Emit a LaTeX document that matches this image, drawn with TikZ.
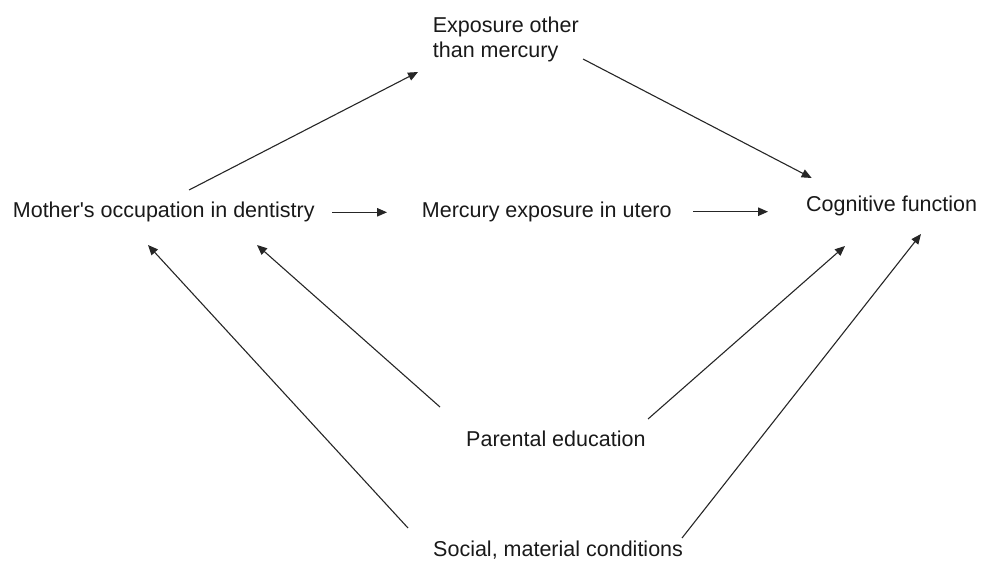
\documentclass[tikz,border=0pt]{standalone}
\usepackage{fontspec}
\setmainfont{Liberation Sans}[Ligatures=TeXOff]
\usetikzlibrary{arrows.meta}

\tikzset{
  label/.style={inner sep=0pt, font=\fontsize{21.5}{25}\selectfont, text=black!90},
  arr/.style={draw=black!85, line width=1.1pt, -{Triangle[length=10pt,width=8.5pt]}}
}

\begin{document}
\begin{tikzpicture}[x=1pt,y=-1pt]
  \useasboundingbox (0,0) rectangle (981,565);
  % Variables
  \node[label, anchor=base west] (moth) at (12.7,217) {Mother's occupation in dentistry};
  \node[label, anchor=base west] (merc) at (421.7,217.3) {Mercury exposure in utero};
  \node[label, anchor=base west] (cogn) at (806,211.7) {Cognitive function};
  \node[label, anchor=north west, align=left] (expo) at (432.7,16.5)
    {Exposure other\\than mercury};
  \node[label, anchor=base west] (par) at (466,446.7) {Parental education};
  \node[label, anchor=base west] (soc) at (433,556.7) {Social, material conditions};
  % Paths through the exposure
  \draw[arr] ([shift={(176.3,-27)}]moth.base west) -- ([shift={(-14.7,55.5)}]expo.north west);
  \draw[arr] ([shift={(150.3,42.5)}]expo.north west) -- ([shift={(5.7,-33.7)}]cogn.base west);
  \draw[arr] ([shift={(319.3,-4.7)}]moth.base west) -- ([shift={(-34.7,-5)}]merc.base west);
  \draw[arr] ([shift={(271.3,-5.6)}]merc.base west) -- ([shift={(-38,0)}]cogn.base west);
  % Confounders
  \draw[arr] ([shift={(-26,-39.7)}]par.base west) -- ([shift={(244.3,28)}]moth.base west);
  \draw[arr] ([shift={(-25,-28.7)}]soc.base west) -- ([shift={(135.3,28)}]moth.base west);
  \draw[arr] ([shift={(182,-27.7)}]par.base west) -- ([shift={(39,34.3)}]cogn.base west);
  \draw[arr] ([shift={(249,-18.7)}]soc.base west) -- ([shift={(115,22.3)}]cogn.base west);
\end{tikzpicture}
\end{document}
